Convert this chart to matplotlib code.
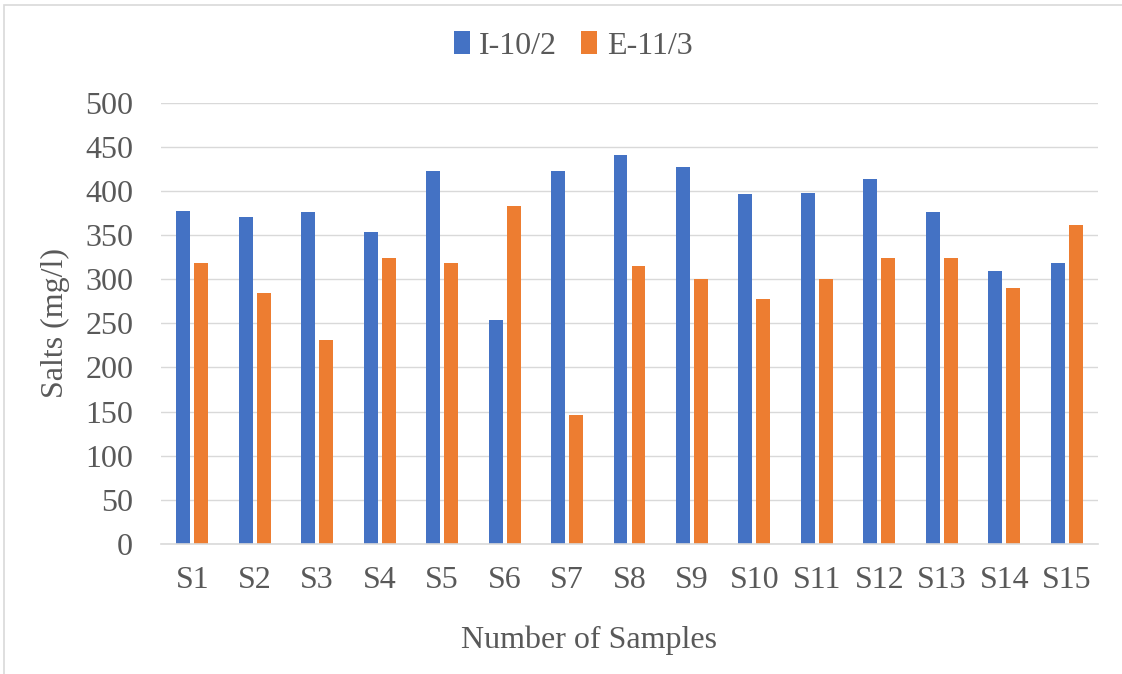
import matplotlib
matplotlib.use("Agg")
import matplotlib.pyplot as plt
import numpy as np
from matplotlib.patches import Rectangle

categories = ["S1", "S2", "S3", "S4", "S5", "S6", "S7", "S8", "S9", "S10",
              "S11", "S12", "S13", "S14", "S15"]
series_names = ["I-10/2", "E-11/3"]
i_10_2 = [377, 370, 376, 354, 423, 254, 423, 441, 427, 396, 398, 414, 376, 309, 318]
e_11_3 = [318, 284, 231, 324, 318, 383, 146, 315, 300, 278, 300, 324, 324, 290, 361]
y_ticks = [0, 50, 100, 150, 200, 250, 300, 350, 400, 450, 500]

plt.rcParams['font.family'] = ['Liberation Serif', 'DejaVu Serif']
text_color = "#595959"
grid_color = "#d9d9d9"
fs = 23

W, H = 1122, 674
fig = plt.figure(figsize=(W / 100, H / 100), dpi=100)
ax = fig.add_axes([161 / W, 1 - 544 / H, (1098 - 161) / W, (544 - 102.7) / H])

x = np.arange(len(categories))
bw = 0.223
off = 0.144
ax.bar(x - off, i_10_2, width=bw, color="#4472C4", label=series_names[0], zorder=3)
ax.bar(x + off, e_11_3, width=bw, color="#ED7D31", label=series_names[1], zorder=3)

ax.set_xlim(-0.5, len(categories) - 0.5)
ax.set_ylim(0, 500)
ax.set_yticks(y_ticks)
ax.set_xticks(x)
ax.set_xticklabels(categories)
ax.grid(axis="y", color=grid_color, linewidth=1.0, zorder=0)
ax.set_axisbelow(True)
for s in ["top", "right", "left"]:
    ax.spines[s].set_visible(False)
ax.spines["bottom"].set_color(grid_color)
ax.spines["bottom"].set_linewidth(1.2)
ax.spines["bottom"].set_zorder(4)

ax.tick_params(axis="y", length=0, pad=20, labelsize=fs, labelcolor=text_color)
ax.tick_params(axis="x", length=0, pad=16, labelsize=fs, labelcolor=text_color)

ax.set_ylabel("Salts (mg/l)", fontsize=fs, color=text_color, va="center")
ax.yaxis.set_label_coords((55 - 161) / 937, 0.5)
ax.set_xlabel("Number of Samples", fontsize=fs, color=text_color, va="center")
ax.xaxis.set_label_coords((589 - 161) / 937, (544 - 640) / 441.3)

leg = fig.legend(loc="center", bbox_to_anchor=(573 / W, 1 - 46 / H), ncol=2,
                 frameon=False, fontsize=fs, handlelength=0.5, handleheight=0.7,
                 handletextpad=0.3, columnspacing=0.75, labelcolor=text_color)

fig.patches.append(Rectangle((4 / W, -0.1), 1.2, 1 - 5 / H + 0.1, transform=fig.transFigure,
                             fill=False, edgecolor="#d9d9d9", linewidth=1.2))

fig.savefig("out.png", dpi=100, facecolor="white")
